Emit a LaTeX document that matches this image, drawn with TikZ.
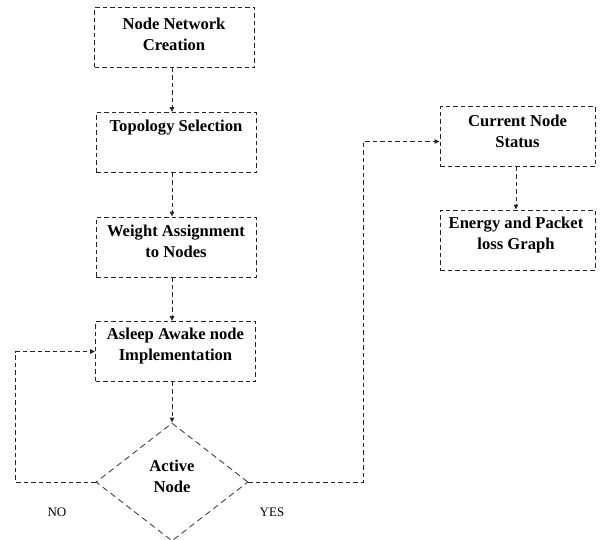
\documentclass[tikz,border=0pt]{standalone}
\usepackage{fontspec}
\setmainfont{Liberation Serif}
\usetikzlibrary{shapes.geometric,arrows.meta}
\begin{document}
\begin{tikzpicture}[x=1pt,y=-1pt,
  box/.style={draw=black!85,line width=0.9pt,dash pattern=on 4.5pt off 3pt,minimum width=160pt,minimum height=60pt,inner sep=0pt},
  dia/.style={draw=black!75,line width=0.9pt,dash pattern=on 6pt off 4pt,shape=diamond,minimum width=152pt,minimum height=118pt,inner sep=0pt},
  lbl/.style={font=\bfseries\fontsize{16.6}{21}\selectfont,align=center,inner sep=0pt},
  side/.style={font=\fontsize{13}{15}\selectfont,inner sep=0pt},
  arr/.style={draw=black!85,line width=0.9pt,dash pattern=on 4.5pt off 3pt,-{Triangle[length=5pt,width=4.5pt]}}]
\useasboundingbox (0,0) rectangle (604,539);
\node[box] (b1) at (174.5,37.5) {};
\node[box] (b2) at (176,142.5) {};
\node[box] (b3) at (176,247) {};
\node[box] (b4) at (175.5,351.5) {};
\node[dia] (d) at (172,482) {};
\node[box,minimum width=155pt] (b5) at (517.5,136.5) {};
\node[box,minimum width=155pt] (b6) at (517.5,240) {};
\node[lbl] (t1) at (174,34) {Node Network\\Creation};
\node[lbl] (t2) at (176,128) {Topology Selection};
\node[lbl] (t3) at (176,241) {Weight Assignment\\to Nodes};
\node[lbl] (t4) at (175.5,345.5) {Asleep Awake node\\Implementation};
\node[lbl] (t5) at (172,476) {Active\\Node};
\node[lbl] (t6) at (517.5,131) {Current Node\\Status};
\node[lbl] (t7) at (516,235) {Energy and Packet\\loss Graph};
\node[side] (no) at (57,512) {NO};
\node[side] (yes) at (272,512) {YES};
\draw[arr] (b1.south -| d.north) -- (b2.north -| d.north);
\draw[arr] (b2.south -| d.north) -- (b3.north -| d.north);
\draw[arr] (b3.south -| d.north) -- (b4.north -| d.north);
\draw[arr] (b4.south -| d.north) -- (d.north);
\draw[arr] (d.west) -- ++(-80,0) |- (b4.west);
\draw[arr] (d.east) -- ++(115,0) |- ([yshift=-5pt]b5.west);
\draw[arr] (b5.south -| 516,0) -- (b6.north -| 516,0);
\end{tikzpicture}
\end{document}
